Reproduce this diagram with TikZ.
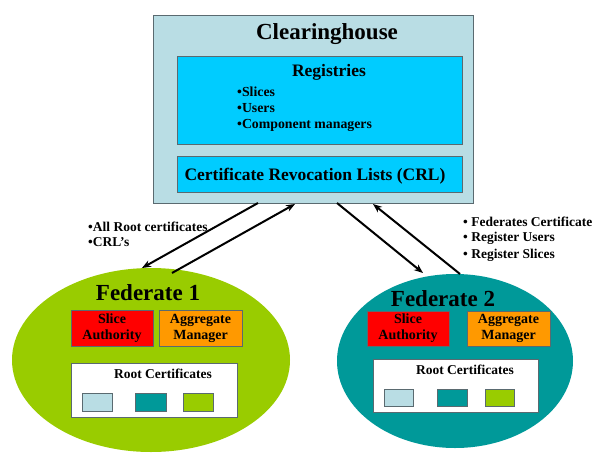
\documentclass[tikz,border=0pt]{standalone}
\usepackage{fontspec}
\setmainfont{Liberation Serif}
\usetikzlibrary{arrows.meta}
\definecolor{chblue}{HTML}{B9DDE4}
\definecolor{regcyan}{HTML}{00CCFF}
\definecolor{fedgreen}{HTML}{99CC00}
\definecolor{fedteal}{HTML}{009999}
\definecolor{sared}{HTML}{FF0000}
\definecolor{amorange}{HTML}{FF9900}
\definecolor{edgegray}{HTML}{5A6A70}
\tikzset{
  box/.style={draw=edgegray, line width=0.8pt, inner sep=0pt, outer sep=0pt},
  fed/.style={ellipse, draw=none, inner sep=0pt},
  title/.style={font=\bfseries\fontsize{23}{25}\selectfont, inner sep=0pt},
  subtitle/.style={font=\bfseries\fontsize{17.5}{20}\selectfont, inner sep=0pt},
  fedtitle/.style={font=\bfseries\fontsize{23}{25}\selectfont, inner sep=0pt},
  smalltxt/.style={font=\bfseries\fontsize{13.5}{16.5}\selectfont, inner sep=0pt, align=left, anchor=west},
  regtxt/.style={smalltxt, font=\bfseries\fontsize{13.8}{16.5}\selectfont},
  boxtxt/.style={font=\bfseries\fontsize{14}{16}\selectfont, align=center},
  rctxt/.style={font=\bfseries\fontsize{13.5}{15}\selectfont, inner sep=0pt},
  arr/.style={-{Stealth[length=9pt,width=7pt]}, line width=2pt, black},
}
\usetikzlibrary{shapes.geometric}
\begin{document}
\begin{tikzpicture}[x=1pt,y=-1pt]
\useasboundingbox (0,0) rectangle (595,453);
% Clearinghouse
\node[box, fill=chblue, minimum width=320pt, minimum height=188pt] (ch) at (313,109) {};
\node[title] (cht) at (327,34) {Clearinghouse};
\node[box, fill=regcyan, minimum width=285pt, minimum height=88pt] (reg) at (319.5,100) {};
\node[subtitle] (regt) at (329,72) {Registries};
\node[regtxt] (r1) at (237,92) {•Slices};
\node[regtxt] (r2) at (237,108) {•Users};
\node[regtxt] (r3) at (237,125) {•Component managers};
\node[box, fill=regcyan, minimum width=285pt, minimum height=36pt] (crl) at (319.5,174) {};
\node[subtitle] (crlt) at (315,176) {Certificate Revocation Lists (CRL)};
% Federate 1
\node[fed, fill=fedgreen, minimum width=278pt, minimum height=184pt] (f1) at (151,360) {};
\node[fedtitle] (f1t) at (148,293) {Federate 1};
\node[box, fill=sared, minimum width=82pt, minimum height=36pt, boxtxt] (sa1) at (112,328) {Slice\\Authority};
\node[box, fill=amorange, minimum width=83pt, minimum height=36pt, boxtxt] (am1) at (200.5,328) {Aggregate\\Manager};
\node[box, fill=white, minimum width=166pt, minimum height=54pt] (rc1) at (154,390) {};
\node[rctxt] (rc1t) at (163,374) {Root Certificates};
\node[box, fill=chblue, minimum width=30pt, minimum height=18pt] (q11) at (97,402) {};
\node[box, fill=fedteal, minimum width=31pt, minimum height=18pt] (q12) at (150.5,402) {};
\node[box, fill=fedgreen, minimum width=30pt, minimum height=18pt] (q13) at (198,402) {};
% Federate 2
\node[fed, fill=fedteal, minimum width=236pt, minimum height=174pt] (f2) at (455,361) {};
\node[fedtitle] (f2t) at (443,299) {Federate 2};
\node[box, fill=sared, minimum width=82pt, minimum height=35pt, boxtxt] (sa2) at (408,328.5) {Slice\\Authority};
\node[box, fill=amorange, minimum width=83pt, minimum height=35pt, boxtxt] (am2) at (508.5,328.5) {Aggregate\\Manager};
\node[box, fill=white, minimum width=165pt, minimum height=53pt] (rc2) at (455.5,385.5) {};
\node[rctxt] (rc2t) at (465,370) {Root Certificates};
\node[box, fill=chblue, minimum width=29pt, minimum height=17pt] (q21) at (398.5,397.5) {};
\node[box, fill=fedteal, minimum width=30pt, minimum height=17pt] (q22) at (452,397.5) {};
\node[box, fill=fedgreen, minimum width=29pt, minimum height=17pt] (q23) at (499.5,397.5) {};
% arrow end points
\coordinate (a1s) at (258,203);
\coordinate (a1e) at (142,268);
\coordinate (a2s) at (172,273);
\coordinate (a2e) at (295,204);
\coordinate (a3s) at (337,203);
\coordinate (a3e) at (423,273);
\coordinate (a4s) at (460,274);
\coordinate (a4e) at (373,204);
\draw[arr] (a1s) -- (a1e);
\draw[arr] (a2s) -- (a2e);
\draw[arr] (a3s) -- (a3e);
\draw[arr] (a4s) -- (a4e);
% labels
\node[smalltxt] (l1) at (88,227) {•All Root certificates};
\node[smalltxt] (l2) at (88,242) {•CRL’s};
\node[smalltxt] (l3) at (463,222) {• Federates Certificate};
\node[smalltxt] (l4) at (463,238) {• Register Users};
\node[smalltxt] (l5) at (463,255) {• Register Slices};
\end{tikzpicture}
\end{document}
